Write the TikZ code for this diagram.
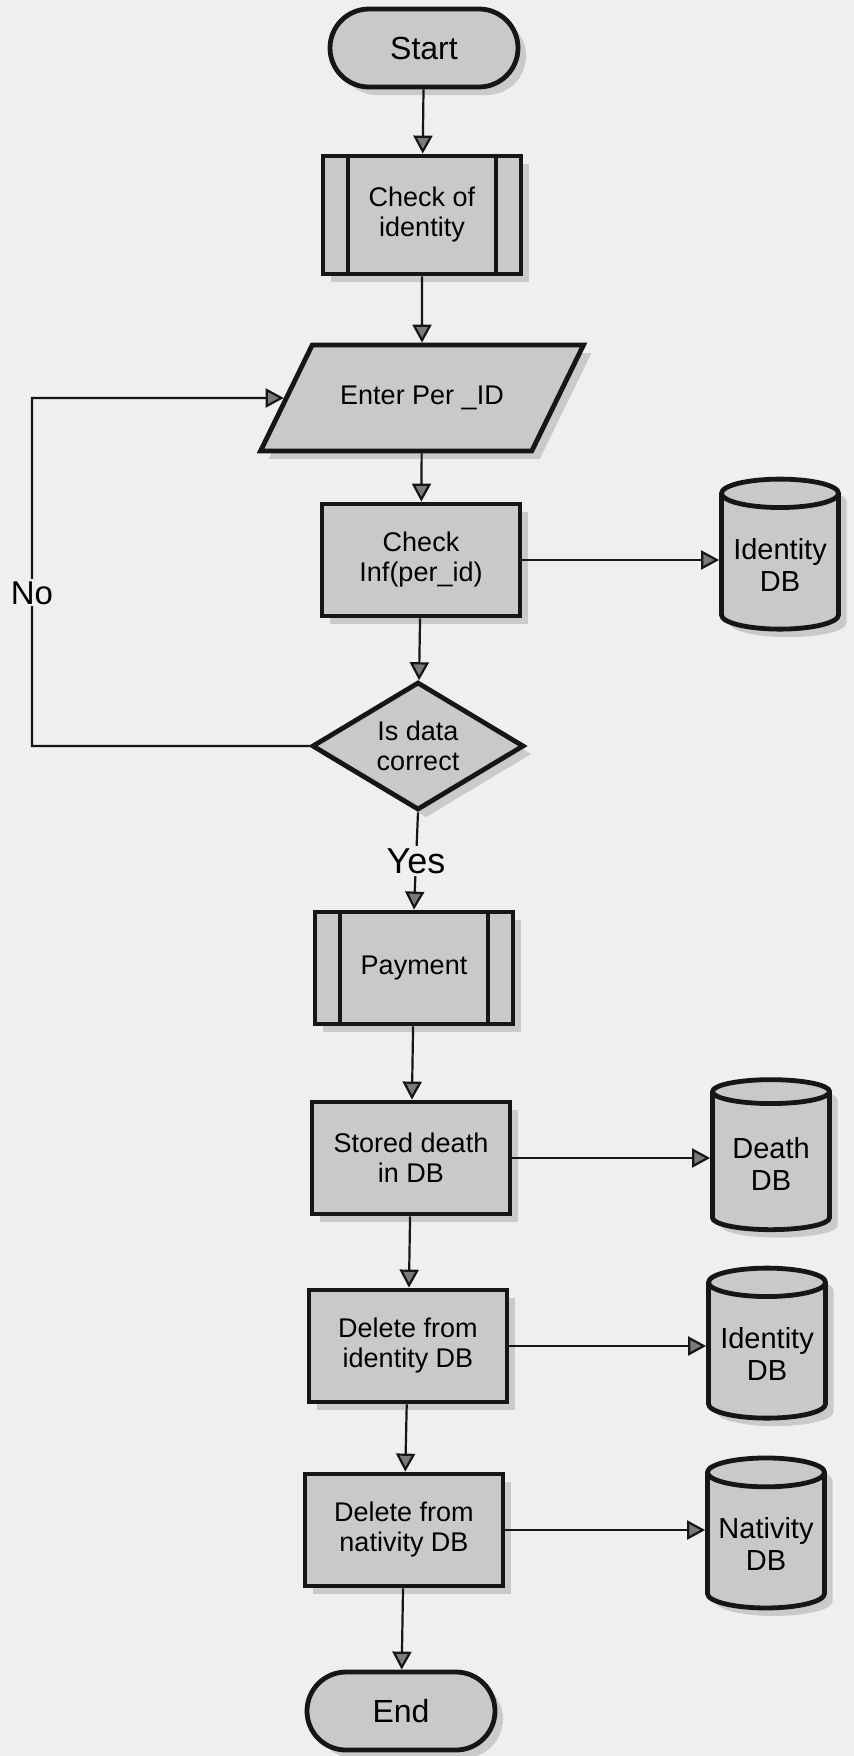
\documentclass[tikz,border=0pt]{standalone}
\usepackage{fontspec}
\setmainfont{Liberation Sans}
\usetikzlibrary{shapes.geometric,shapes.misc,arrows.meta,shadows}
\definecolor{paper}{HTML}{EFEFED}
\definecolor{boxgray}{HTML}{C9C9C9}
\definecolor{tipgray}{HTML}{7A7A7A}
\definecolor{ink}{HTML}{161616}
\begin{document}
\begin{tikzpicture}[x=0.5pt,y=-0.5pt,
  base/.style={draw=ink,line width=2.4pt,fill=boxgray,align=center,inner sep=2pt,
    drop shadow={shadow xshift=4pt,shadow yshift=-4pt,fill=black!35,opacity=0.5},
    font=\fontsize{13.5}{15}\selectfont},
  term/.style={base,rounded rectangle,minimum width=98pt,minimum height=39pt,
    font=\fontsize{16}{18}\selectfont},
  proc/.style={base,rectangle,minimum width=99pt,minimum height=56pt},
  subproc/.style={proc,path picture={
    \draw[ink,line width=1.6pt] ([xshift=12.5pt]path picture bounding box.north west)
      -- ([xshift=12.5pt]path picture bounding box.south west);
    \draw[ink,line width=1.6pt] ([xshift=-12.5pt]path picture bounding box.north east)
      -- ([xshift=-12.5pt]path picture bounding box.south east);}},
  io/.style={base,trapezium,trapezium left angle=64,trapezium right angle=116,
    inner xsep=14pt,inner ysep=20.5pt},
  decide/.style={base,diamond,aspect=1.65,minimum width=106pt,minimum height=64pt,inner sep=0pt},
  store/.style={base,cylinder,shape border rotate=90,aspect=0.28,
    minimum width=58.5pt,minimum height=75pt,font=\fontsize{14.5}{16}\selectfont},
  flow/.style={draw=ink,line width=1.1pt,-{Triangle[length=9pt,width=9.5pt,fill=tipgray]}},
  lbl/.style={fill=paper,inner sep=1pt}]
\fill[paper] (0,0) rectangle (854,1756);
\useasboundingbox (0,0) rectangle (854,1756);
\node[term] (start) at (424,48) {Start};
\node[subproc,minimum height=59pt] (chkid) at (422,215) {Check of\\identity};
\node[io] (enter) at (422,398) {Enter Per \_ID};
\node[proc] (chkinf) at (421,560) {Check\\Inf(per\_id)};
\node[store] (iddba) at (780,565) {Identity\\DB};
\node[decide] (dec) at (418,746) {Is data\\correct};
\node[subproc] (pay) at (414,968) {Payment};
\node[proc] (stored) at (411,1158) {Stored death\\in DB};
\node[store] (deathdb) at (771,1164) {Death\\DB};
\node[proc] (delid) at (408,1346) {Delete from\\identity DB};
\node[store] (iddbb) at (767,1354) {Identity\\DB};
\node[proc] (delnat) at (404,1530) {Delete from\\nativity DB};
\node[store] (natdb) at (766,1544) {Nativity\\DB};
\node[term] (stop) at (401,1711) {End};
\coordinate (back) at (32,398);
\draw[flow] (start) -- (chkid);
\draw[flow] (chkid) -- (enter);
\draw[flow] (enter) -- (chkinf);
\draw[flow] (chkinf) -- (dec);
\draw[flow] (chkinf.east) -- (chkinf.east -| iddba.west);
\draw[flow] (dec.south) -- node[lbl,font=\fontsize{18}{20}\selectfont] {Yes} (pay.north);
\draw[flow] (dec.west) -| node[lbl,pos=0.72,font=\fontsize{16.5}{18}\selectfont] {No} (back) -- (enter.west);
\draw[flow] (pay) -- (stored);
\draw[flow] (stored.east) -- (stored.east -| deathdb.west);
\draw[flow] (stored) -- (delid);
\draw[flow] (delid.east) -- (delid.east -| iddbb.west);
\draw[flow] (delid) -- (delnat);
\draw[flow] (delnat.east) -- (delnat.east -| natdb.west);
\draw[flow] (delnat) -- (stop);
\end{tikzpicture}
\end{document}
